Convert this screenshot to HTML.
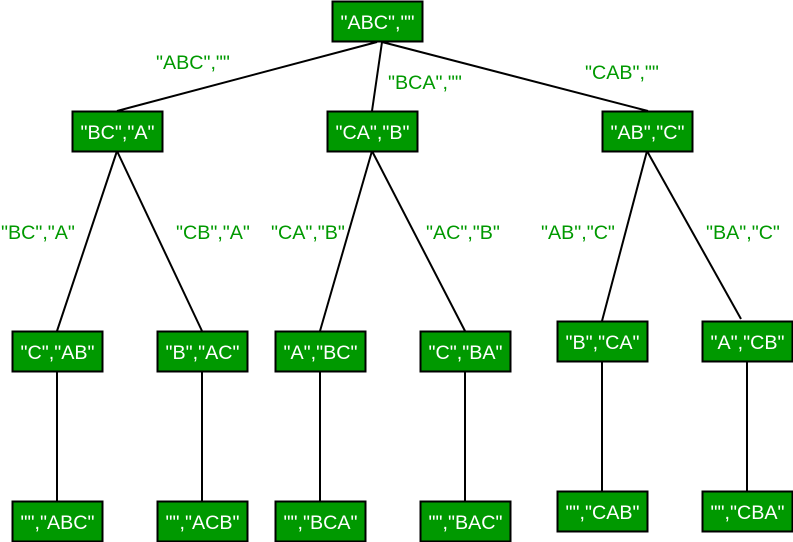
<!DOCTYPE html>
<html><head><meta charset="utf-8"><style>
html,body{margin:0;padding:0;background:#fff}
svg{display:block}
text{font-family:"Liberation Sans",Arial,sans-serif;font-size:19.7px}
text.n{fill:#fff;text-anchor:middle}
text.e{fill:#009900}
rect{fill:#009900;stroke:#000;stroke-width:2}
line{stroke:#000;stroke-width:2}
</style></head><body>
<svg xmlns="http://www.w3.org/2000/svg" width="793" height="542" viewBox="0 0 793 542">
<line x1="377" y1="42" x2="117" y2="111"/>
<line x1="382" y1="42" x2="372" y2="111"/>
<line x1="382" y1="42" x2="648" y2="111"/>
<line x1="117" y1="151" x2="57" y2="331"/>
<line x1="117" y1="151" x2="202" y2="331"/>
<line x1="372" y1="151" x2="320" y2="331"/>
<line x1="372" y1="151" x2="465" y2="331"/>
<line x1="647" y1="151" x2="602" y2="321"/>
<line x1="647" y1="151" x2="741" y2="319"/>
<line x1="57" y1="371" x2="57" y2="501"/>
<line x1="202" y1="371" x2="202" y2="501"/>
<line x1="320" y1="371" x2="320" y2="501"/>
<line x1="465" y1="371" x2="465" y2="501"/>
<line x1="602" y1="361" x2="602" y2="491"/>
<line x1="747" y1="361" x2="747" y2="491"/>
<rect x="332.5" y="1.5" width="90" height="40"/>
<rect x="72.5" y="111.5" width="90" height="40"/>
<rect x="327.5" y="111.5" width="90" height="40"/>
<rect x="602.5" y="111.5" width="90" height="40"/>
<rect x="12.5" y="331.5" width="90" height="40"/>
<rect x="157.5" y="331.5" width="90" height="40"/>
<rect x="275.5" y="331.5" width="90" height="40"/>
<rect x="420.5" y="331.5" width="90" height="40"/>
<rect x="557.5" y="321.5" width="90" height="40"/>
<rect x="702.5" y="321.5" width="90" height="40"/>
<rect x="12.5" y="501.5" width="90" height="40"/>
<rect x="157.5" y="501.5" width="90" height="40"/>
<rect x="275.5" y="501.5" width="90" height="40"/>
<rect x="420.5" y="501.5" width="90" height="40"/>
<rect x="557.5" y="491.5" width="90" height="40"/>
<rect x="702.5" y="491.5" width="90" height="40"/>
<text class="n" x="377.5" y="29">"ABC",""</text>
<text class="n" x="117.5" y="139">"BC","A"</text>
<text class="n" x="372.5" y="139">"CA","B"</text>
<text class="n" x="647.5" y="139">"AB","C"</text>
<text class="n" x="57.5" y="359">"C","AB"</text>
<text class="n" x="202.5" y="359">"B","AC"</text>
<text class="n" x="320.5" y="359">"A","BC"</text>
<text class="n" x="465.5" y="359">"C","BA"</text>
<text class="n" x="602.5" y="349">"B","CA"</text>
<text class="n" x="747.5" y="349">"A","CB"</text>
<text class="n" x="57.5" y="529">"","ABC"</text>
<text class="n" x="202.5" y="529">"","ACB"</text>
<text class="n" x="320.5" y="529">"","BCA"</text>
<text class="n" x="465.5" y="529">"","BAC"</text>
<text class="n" x="602.5" y="519">"","CAB"</text>
<text class="n" x="747.5" y="519">"","CBA"</text>
<text class="e" x="156" y="69">"ABC",""</text>
<text class="e" x="388" y="89">"BCA",""</text>
<text class="e" x="585" y="79">"CAB",""</text>
<text class="e" x="1" y="239">"BC","A"</text>
<text class="e" x="176" y="239">"CB","A"</text>
<text class="e" x="271" y="239">"CA","B"</text>
<text class="e" x="426" y="239">"AC","B"</text>
<text class="e" x="541" y="239">"AB","C"</text>
<text class="e" x="706" y="239">"BA","C"</text>
</svg>
</body></html>
